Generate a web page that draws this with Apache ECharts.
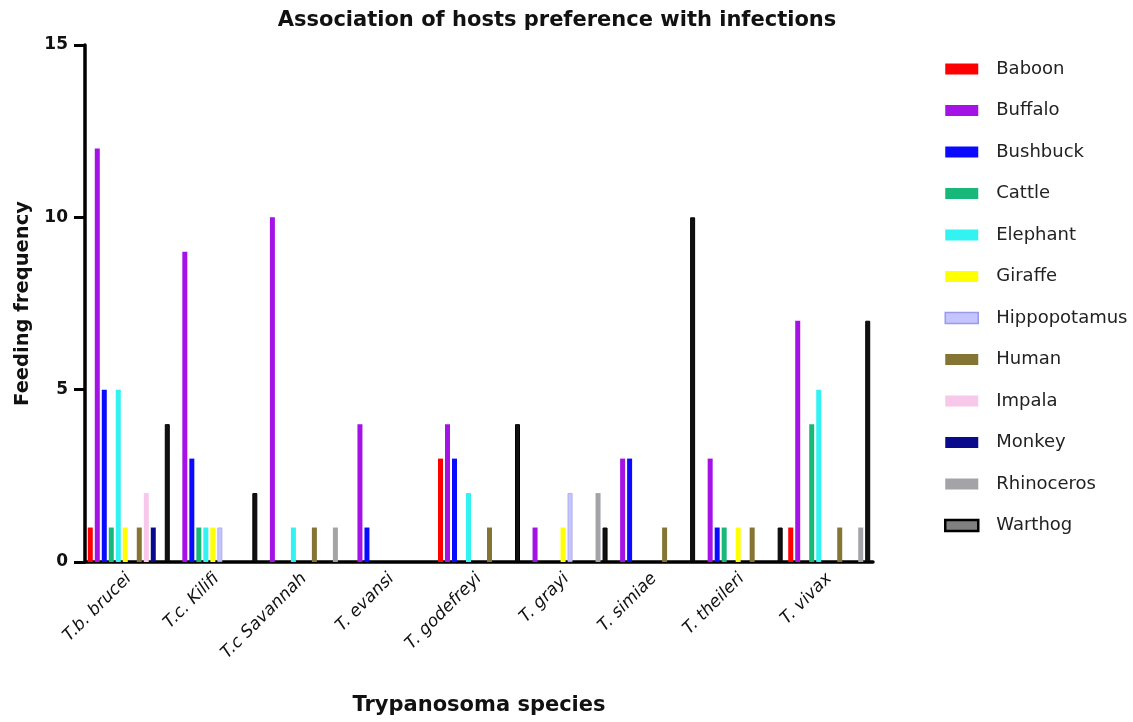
<!DOCTYPE html>
<html>
<head>
<meta charset="utf-8">
<script src="https://cdn.jsdelivr.net/npm/echarts@6/dist/echarts.min.js"></script>
<style>html,body{margin:0;padding:0;background:#fff;}#c{width:1133px;height:722px;}</style>
</head>
<body>
<div id="c"></div>
<script>
const categories = ['T.b. brucei','T.c. Kilifi','T.c Savannah','T. evansi','T. godefreyi','T. grayi','T. simiae','T. theileri','T. vivax'];
const hosts = ['Baboon','Buffalo','Bushbuck','Cattle','Elephant','Giraffe','Hippopotamus','Human','Impala','Monkey','Rhinoceros','Warthog'];
const baboon   = [1,0,0,0,3,0,0,0,1];
const buffalo  = [12,9,10,4,4,1,3,3,7];
const bushbuck = [5,3,0,1,3,0,3,1,0];
const cattle   = [1,1,0,0,0,0,0,1,4];
const elephant = [5,1,1,0,2,0,0,0,5];
const giraffe  = [1,1,0,0,0,1,0,1,0];
const hippopotamus = [0,1,0,0,0,2,0,0,0];
const human    = [1,0,1,0,1,0,1,1,1];
const impala   = [2,0,0,0,0,0,0,0,0];
const monkey   = [1,0,0,0,0,0,0,0,0];
const rhinoceros = [0,0,1,0,0,2,0,0,1];
const warthog  = [4,2,0,0,4,1,10,1,7];
const yTicks = [0,5,10,15];

const values = [baboon,buffalo,bushbuck,cattle,elephant,giraffe,hippopotamus,human,impala,monkey,rhinoceros,warthog];
const colors = ['#ff0000','#a412e6','#0a0aff','#17b87a','#33f2f2','#ffff00','#c4c4ff','#857534','#f7c8ea','#0a0a8c','#a3a3a8','#111111'];
const borders = [null,null,null,null,null,null,'#a8a8f0',null,null,null,null,'#000000'];
const FONT = '"DejaVu Sans", sans-serif';

const chart = echarts.init(document.getElementById('c'), null, {renderer:'canvas'});
const series = hosts.map((h,i)=>({
  name: h,
  type: 'bar',
  data: values[i].map(v => v === 0 ? '-' : v),
  barWidth: 5,
  barGap: '40%',
  itemStyle: borders[i] ? {color: colors[i], borderColor: borders[i], borderWidth: i===11?1:0.8} : {color: colors[i]},
  emphasis: {disabled: true}
}));
const legendData = hosts.map((h,i)=>{
  if (i===11) return {name:h, itemStyle:{color:'#808080', borderColor:'#000', borderWidth:2.5}};
  if (i===6) return {name:h, itemStyle:{color:'#c4c4ff', borderColor:'#9999ee', borderWidth:1.5}};
  return {name:h};
});
chart.setOption({
  animation: false,
  backgroundColor: '#ffffff',
  title: {
    text: 'Association of hosts preference with infections',
    left: 552, top: 5, textAlign: 'center',
    textStyle: {fontFamily: FONT, fontWeight: 'bold', fontSize: 21, color: '#111'}
  },
  legend: {
    orient: 'vertical', left: 939, top: 55,
    itemWidth: 33, itemHeight: 11, itemGap: 23.5,
    icon: 'rect',
    data: legendData,
    textStyle: {fontFamily: FONT, fontSize: 18, color: '#222', padding: [0,0,0,13]}
  },
  grid: {left: 85, right: 260, top: 45, bottom: 160, containLabel: false},
  xAxis: {
    type: 'category',
    data: categories,
    name: 'Trypanosoma species',
    nameLocation: 'middle',
    nameGap: 133,
    nameTextStyle: {fontFamily: FONT, fontWeight: 'bold', fontSize: 21, color: '#111'},
    axisLine: {lineStyle: {color: '#000', width: 3.5}},
    axisTick: {alignWithLabel: true, length: 9, lineStyle: {width: 3, color: '#000'}},
    axisLabel: {rotate: 45, fontStyle: 'italic', fontFamily: FONT, fontSize: 17, color: '#111', margin: 14},
    splitLine: {show: false}
  },
  yAxis: {
    type: 'value',
    min: 0, max: 15, interval: 5,
    name: 'Feeding frequency',
    nameLocation: 'middle',
    nameGap: 52,
    nameTextStyle: {fontFamily: FONT, fontWeight: 'bold', fontSize: 19.5, color: '#111'},
    axisLine: {show: true, lineStyle: {color: '#000', width: 3.5}},
    axisTick: {show: true, length: 11, lineStyle: {width: 3, color: '#000'}},
    axisLabel: {fontFamily: FONT, fontWeight: 'bold', fontSize: 17, color: '#111', margin: 17,
      formatter: v => yTicks.includes(v) ? String(v) : ''},
    splitLine: {show: false}
  },
  series: series
});
</script>
</body>
</html>
